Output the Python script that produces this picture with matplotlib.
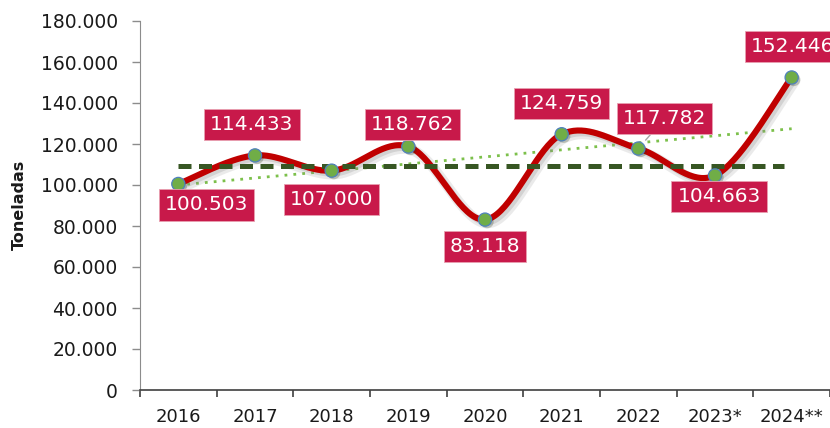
import numpy as np
import matplotlib
matplotlib.use("Agg")
import matplotlib.pyplot as plt
import matplotlib.patheffects as pe
from matplotlib.ticker import FuncFormatter

# Producción anual (toneladas)
anios = ["2016", "2017", "2018", "2019", "2020", "2021", "2022", "2023*", "2024**"]
toneladas = [100503, 114433, 107000, 118762, 83118, 124759, 117782, 104663, 152446]
promedio = 109500

# desplazamiento (px) de cada etiqueta respecto a su punto
offsets = [(28, -21), (-3, 31), (0, -29), (4, 22), (0, -27),
           (0, 31), (26, 30), (4, -21), (1, 31)]


def suavizar(x, y, n=40):
    # curva suavizada tipo Excel (Bezier con tangentes de Catmull-Rom)
    px = np.concatenate([[x[0]], x, [x[-1]]])
    py = np.concatenate([[y[0]], y, [y[-1]]])
    xs, ys = [], []
    t = np.linspace(0, 1, n)
    for i in range(1, len(px) - 2):
        p0 = np.array([px[i], py[i]])
        p3 = np.array([px[i + 1], py[i + 1]])
        p1 = p0 + (p3 - np.array([px[i - 1], py[i - 1]])) / 6
        p2 = p3 - (np.array([px[i + 2], py[i + 2]]) - p0) / 6
        b = ((1 - t) ** 3)[:, None] * p0 + (3 * (1 - t) ** 2 * t)[:, None] * p1 \
            + (3 * (1 - t) * t ** 2)[:, None] * p2 + (t ** 3)[:, None] * p3
        xs.extend(b[:, 0])
        ys.extend(b[:, 1])
    return np.array(xs), np.array(ys)


x = np.arange(len(anios))
y = np.array(toneladas, dtype=float)

fig = plt.figure(figsize=(8.3, 4.28), dpi=100)
ax = fig.add_axes([140 / 830, 1 - 390 / 428, 690 / 830, 369 / 428])

# línea de tendencia lineal
m, b = np.polyfit(x, y, 1)
ax.plot(x, m * x + b, color="#7CC04B", lw=2, linestyle=(0, (1, 2.2)), zorder=2)

# serie suavizada con sombra suave
sx, sy = suavizar(x, y)
sombra = [pe.SimpleLineShadow(offset=(2.5, -2.5), shadow_color="#909090", alpha=0.18, linewidth=7.5),
          pe.SimpleLineShadow(offset=(2, -2), shadow_color="#808080", alpha=0.22),
          pe.Normal()]
ax.plot(sx, sy, color="#C00000", lw=4.4, solid_capstyle="round", zorder=3,
        path_effects=sombra)

# promedio
ax.plot([x[0], x[-1] - 0.1], [promedio, promedio], color="#375623", lw=3.6,
        dashes=(2.6, 1.5), zorder=4)

ax.plot(x, y, "o", ms=9.5, mfc="#70AD47", mec="#4F81BD", mew=0.9, zorder=5,
        path_effects=[pe.SimplePatchShadow(offset=(1.5, -1.5), alpha=0.25), pe.Normal()])

for xi, yi, (dx, dy) in zip(x, y, offsets):
    etiqueta = f"{yi:,.0f}".replace(",", ".")
    flecha = None
    if abs(dx) > 20 and dy > 0:
        flecha = dict(arrowstyle="-", color="#A6A6A6", lw=1, shrinkA=0, shrinkB=8)
    ax.annotate(etiqueta, (xi, yi), xytext=(dx, dy), textcoords="offset pixels",
                ha="center", va="center", color="white", fontsize=14.5, zorder=6,
                bbox=dict(boxstyle="square,pad=0.3", fc="#C8194A", ec="#E8A0B0", lw=0.6),
                arrowprops=flecha, annotation_clip=False)

ax.set_xlim(-0.5, len(anios) - 0.5)
ax.set_ylim(0, 180000)
ax.set_yticks(np.arange(0, 180001, 20000))
ax.yaxis.set_major_formatter(FuncFormatter(lambda v, p: f"{v:,.0f}".replace(",", ".")))
ax.set_xticks(x)
ax.set_xticklabels(anios)
ax.set_xticks(np.arange(-0.5, len(anios)), minor=True)

ax.tick_params(axis="y", direction="out", length=6, width=1, color="#8C8C8C",
               labelsize=13.5, labelcolor="#1A1A1A", pad=10)
ax.tick_params(axis="x", which="major", length=0, labelsize=13,
               labelcolor="#1A1A1A", pad=13)
ax.tick_params(axis="x", which="minor", direction="out", length=5, width=1.2,
               color="#404040")

for s in ["top", "right"]:
    ax.spines[s].set_visible(False)
ax.spines["left"].set_color("#8C8C8C")
ax.spines["bottom"].set_color("#404040")
ax.spines["bottom"].set_linewidth(1.2)

fig.text(19 / 830, 1 - 205 / 428, "Toneladas", rotation=90, ha="center", va="center",
         fontsize=11.5, fontweight="bold", color="#1A1A1A")

fig.savefig("out.png", dpi=100)
